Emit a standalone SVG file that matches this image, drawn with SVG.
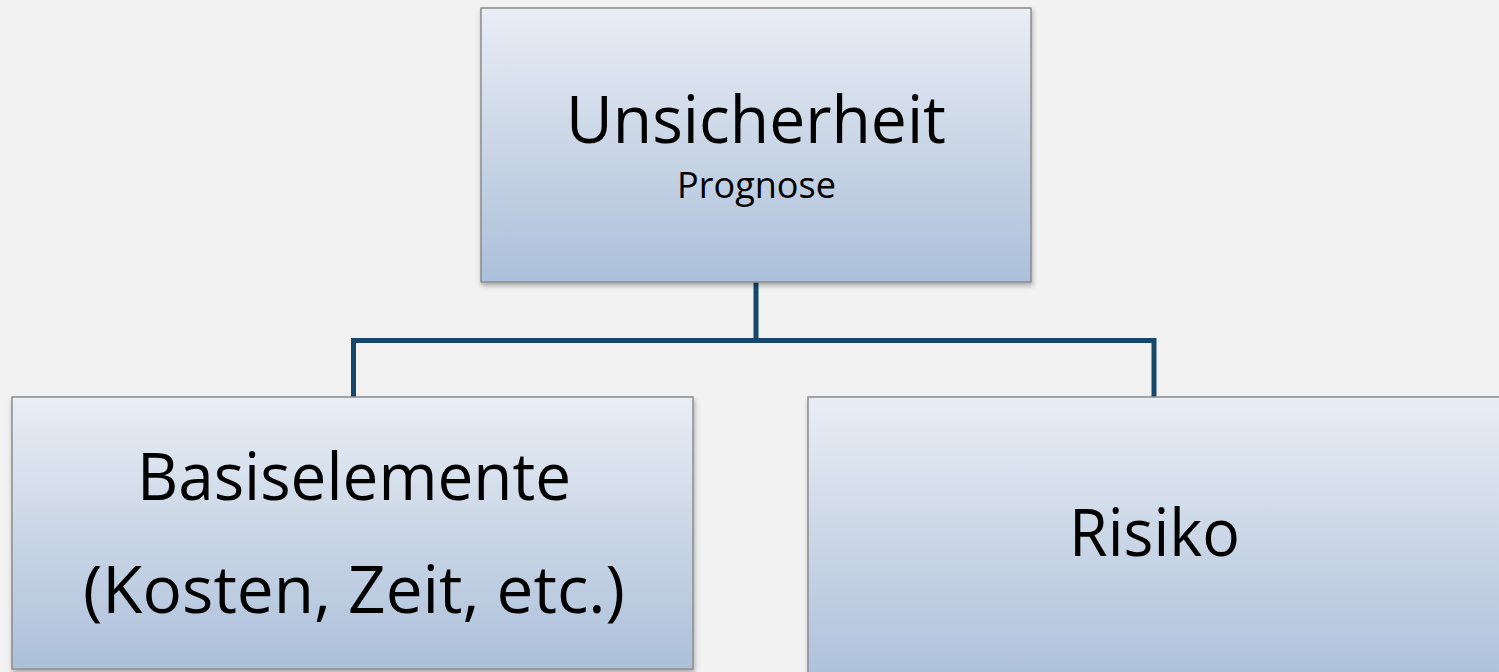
<svg xmlns="http://www.w3.org/2000/svg" width="1499" height="672" viewBox="0 0 1499 672">
<defs>
<linearGradient id="g" x1="0" y1="0" x2="0" y2="1">
<stop offset="0" stop-color="#E9EEF6"/>
<stop offset="0.5" stop-color="#CAD6E6"/>
<stop offset="1" stop-color="#ACC0DB"/>
</linearGradient>
<filter id="sh" x="-5%" y="-5%" width="110%" height="115%">
<feDropShadow dx="1" dy="3" stdDeviation="2.5" flood-color="#000" flood-opacity="0.3"/>
</filter>
<style>
.box{fill:url(#g);stroke:#8C8C8C;stroke-width:1.5;filter:url(#sh)}
.t{font-family:"Open Sans","Noto Sans",sans-serif;fill:#000;text-anchor:middle}
.big{font-size:66px}
.small{font-size:37px}
.conn{fill:none;stroke:#17486B;stroke-width:5;stroke-linejoin:miter}
</style>
</defs>
<rect width="1499" height="672" fill="#F2F2F2"/>
<g id="connectors">
<path class="conn" d="M756 282 V340.5 M353.5 397 V340.5 H1154 V397"/>
</g>
<g id="node-unsicherheit">
<rect class="box" x="481" y="8" width="550" height="274"/>
<text class="t big" x="756" y="143" textLength="380" lengthAdjust="spacingAndGlyphs">Unsicherheit</text>
<text class="t small" x="756.5" y="198" textLength="159" lengthAdjust="spacingAndGlyphs">Prognose</text>
</g>
<g id="node-basiselemente">
<rect class="box" x="12" y="397" width="681" height="272"/>
<text class="t big" x="354" y="500" textLength="434" lengthAdjust="spacingAndGlyphs">Basiselemente</text>
<text class="t big" x="354" y="613" textLength="542" lengthAdjust="spacingAndGlyphs">(Kosten, Zeit, etc.)</text>
</g>
<g id="node-risiko">
<rect class="box" x="808" y="397" width="700" height="290"/>
<text class="t big" x="1154.5" y="556" textLength="171" lengthAdjust="spacingAndGlyphs">Risiko</text>
</g>
</svg>
